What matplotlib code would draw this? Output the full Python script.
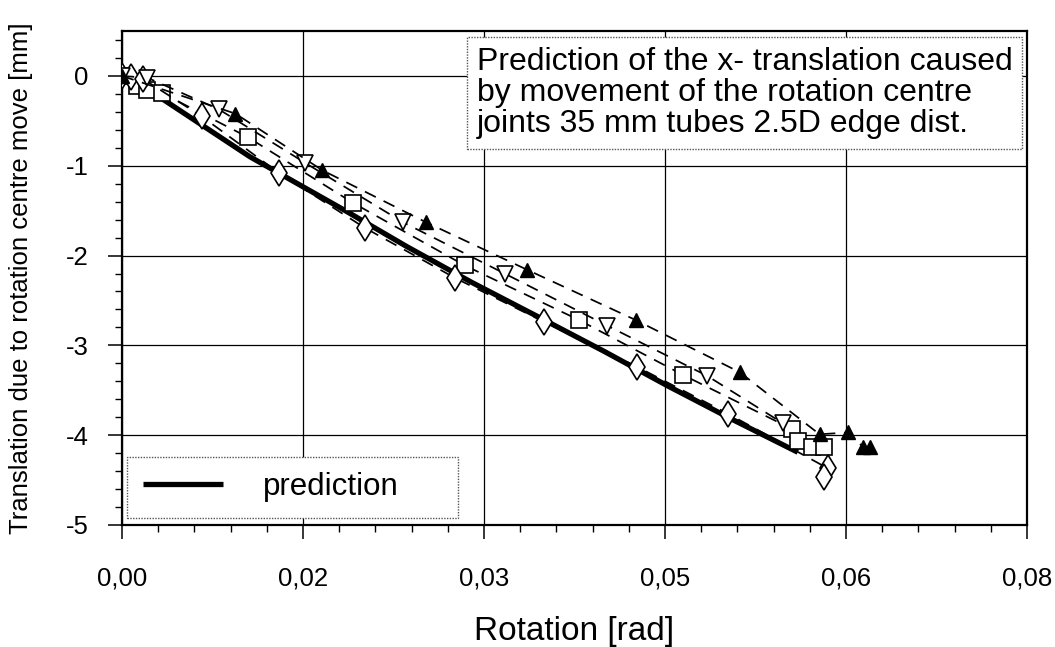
import matplotlib
matplotlib.use("Agg")
import matplotlib.pyplot as plt
from matplotlib.ticker import MultipleLocator, FuncFormatter

plt.rcParams['font.family'] = ['Liberation Sans', 'DejaVu Sans']

# Predicted x-translation from rotation-centre movement
pred_rot = [0.0, 0.0026, 0.0106, 0.0185, 0.0236, 0.0290, 0.0346, 0.0400, 0.0452, 0.0505, 0.0560]
pred_tr = [0.0, -0.19, -0.90, -1.50, -1.90, -2.30, -2.69, -3.07, -3.45, -3.82, -4.19]

# Measured tests (rotation [rad], translation [mm])
sq_rot = [0.0, 0.0012, 0.0021, 0.0033, 0.0104, 0.0191, 0.0284, 0.0379, 0.0465, 0.0555, 0.0560, 0.0572, 0.0582]
sq_tr = [0.0, -0.11, -0.16, -0.19, -0.68, -1.41, -2.11, -2.72, -3.33, -3.93, -4.07, -4.13, -4.13]

dia_rot = [0.0, 0.0007, 0.0017, 0.0066, 0.0130, 0.0201, 0.0276, 0.0350, 0.0427, 0.0502, 0.0585, 0.0582]
dia_tr = [0.0, -0.01, -0.03, -0.45, -1.08, -1.69, -2.25, -2.74, -3.24, -3.76, -4.37, -4.47]

tdn_rot = [0.0, 0.0021, 0.0080, 0.0152, 0.0233, 0.0317, 0.0402, 0.0485, 0.0548]
tdn_tr = [0.0, -0.02, -0.37, -0.97, -1.63, -2.20, -2.78, -3.34, -3.87]

tup_rot = [0.0, 0.0094, 0.0166, 0.0252, 0.0336, 0.0426, 0.0512, 0.0578, 0.0602, 0.0614, 0.0620]
tup_tr = [0.0, -0.42, -1.05, -1.63, -2.16, -2.72, -3.30, -3.99, -3.97, -4.13, -4.13]

x_ticks = [0.0, 0.015, 0.03, 0.045, 0.06, 0.075]
y_ticks = [-5, -4, -3, -2, -1, 0]

title_text = ("Prediction of the x- translation caused\n"
              "by movement of the rotation centre\n"
              "joints 35 mm tubes 2.5D edge dist.")

fig = plt.figure(figsize=(10.55, 6.47), dpi=100)
ax = fig.add_axes([0.1157, 0.1886, 0.8578, 0.7634])

dash = (0, (7, 5))
common = dict(color='black', lw=1.25, linestyle=dash, mfc='white', mec='black',
              mew=1.2, zorder=3)
ax.plot(sq_rot, sq_tr, marker='s', ms=11, **common)
ax.plot(dia_rot, dia_tr, marker='d', ms=13, **common)
ax.plot(tdn_rot, tdn_tr, marker='v', ms=12, **common)
ax.plot(tup_rot, tup_tr, color='black', lw=1.25, linestyle=dash,
        marker='^', ms=10, mfc='black', mec='black', zorder=3)

pred_line, = ax.plot(pred_rot, pred_tr, color='black', lw=3.8,
                     solid_capstyle='butt', label='prediction', zorder=2)

ax.set_xlim(0, 0.075)
ax.set_ylim(-5, 0.5)
ax.set_xticks(x_ticks)
ax.set_yticks(y_ticks)
ax.xaxis.set_minor_locator(MultipleLocator(0.003))
ax.yaxis.set_minor_locator(MultipleLocator(0.2))
ax.xaxis.set_major_formatter(FuncFormatter(
    lambda v, p: f"{v + 1e-9:.2f}".replace('.', ',')))
ax.yaxis.set_major_formatter(FuncFormatter(lambda v, p: f"{v:.0f}"))

ax.grid(True, which='major', color='black', lw=0.9)
ax.tick_params(which='major', direction='out', length=10, width=1.1,
               labelsize=18.5)
ax.tick_params(axis='x', which='major', pad=20)
ax.tick_params(axis='y', which='major', pad=14)
ax.tick_params(which='minor', direction='out', length=5, width=1.0)
for s in ax.spines.values():
    s.set_linewidth(1.6)

ax.set_xlabel("Rotation [rad]", fontsize=24, labelpad=18)
ax.set_ylabel("Translation due to rotation centre move [mm]", fontsize=18.5, labelpad=24)

ax.text(0.392, 0.875, title_text, transform=ax.transAxes, ha='left', va='center',
        fontsize=23, linespacing=1.05, zorder=5,
        bbox=dict(boxstyle='square,pad=0.3', fc='white', ec='#555555', lw=1.0,
                  linestyle=(0, (1, 1))))

leg = ax.legend(handles=[pred_line], loc='lower left', fontsize=22.5,
                handlelength=2.55, handletextpad=1.3, borderpad=0.5,
                borderaxespad=0, mode='expand',
                fancybox=False, framealpha=1, edgecolor='#555555',
                bbox_to_anchor=(0.006, 0.014, 0.365, 0.13))
leg.get_frame().set_linewidth(1.0)
leg.get_frame().set_linestyle((0, (1, 1)))

fig.savefig("out.png", dpi=100)
